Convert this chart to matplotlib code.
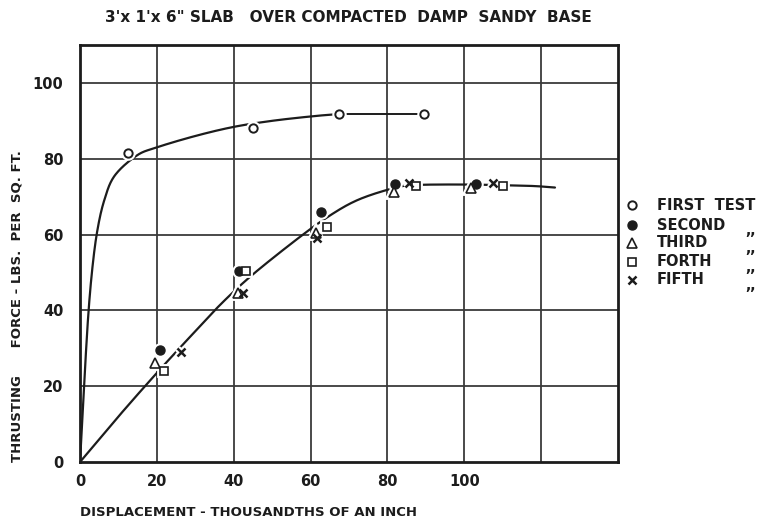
import numpy as np
import matplotlib
matplotlib.use("Agg")
import matplotlib.pyplot as plt
from matplotlib.lines import Line2D

# ---------------- data ----------------
title = '3\'x 1\'x 6" SLAB   OVER COMPACTED  DAMP  SANDY  BASE'
x_label = "DISPLACEMENT - THOUSANDTHS OF AN INCH"
y_label = "THRUSTING      FORCE - LBS.  PER  SQ. FT."

x_ticks = [0, 20, 40, 60, 80, 100]
y_ticks = [0, 20, 40, 60, 80, 100]
x_grid = [20, 40, 60, 80, 100, 120]
y_grid = [20, 40, 60, 80, 100]

legend_names = ["FIRST  TEST", "SECOND", "THIRD", "FORTH", "FIFTH"]

first_x = [12.5, 45.0, 67.5, 89.6]
first_y = [81.5, 88.2, 91.8, 91.8]
second_x = [20.8, 41.5, 62.8, 82.0, 103.0]
second_y = [29.5, 50.5, 65.9, 73.4, 73.3]
third_x = [19.5, 41.0, 61.5, 81.6, 101.7]
third_y = [26.0, 44.5, 60.5, 71.3, 72.4]
fourth_x = [21.8, 43.3, 64.4, 87.4, 110.0]
fourth_y = [24.0, 50.5, 62.0, 72.8, 72.8]
fifth_x = [26.2, 42.5, 61.8, 85.7, 107.4]
fifth_y = [29.0, 44.5, 59.0, 73.5, 73.5]

# hand-drawn fitted curves (knots)
curve1_x = [0, 1.0, 2.1, 3.2, 4.5, 6.3, 9.0, 14.7, 20, 30, 40, 50, 60.5, 67.5]
curve1_y = [0, 19, 38, 51, 61, 69, 75.5, 80.8, 83, 86, 88.4, 90, 91.2, 91.8]
flat1_x = [67.5, 89.6]
flat1_y = [91.8, 91.8]
curve2_x = [0, 10, 20, 30, 37, 45, 57, 65, 72, 80, 86, 100, 110, 118, 123.6]
curve2_y = [0, 12, 23.5, 34.5, 42, 49.5, 59.2, 65, 69, 71.8, 73, 73.2, 73, 72.8, 72.4]


def catmull_rom(xs, ys, n=30):
    p = np.column_stack([xs, ys]).astype(float)
    p = np.vstack([2 * p[0] - p[1], p, 2 * p[-1] - p[-2]])
    out = []
    t = np.linspace(0, 1, n, endpoint=False)
    for i in range(1, len(p) - 2):
        p0, p1, p2, p3 = p[i - 1], p[i], p[i + 1], p[i + 2]
        tt = t[:, None]
        seg = 0.5 * ((2 * p1) + (-p0 + p2) * tt + (2 * p0 - 5 * p1 + 4 * p2 - p3) * tt ** 2
                     + (-p0 + 3 * p1 - 3 * p2 + p3) * tt ** 3)
        out.append(seg)
    out.append(p[-2][None, :])
    out = np.vstack(out)
    return out[:, 0], out[:, 1]


# ---------------- figure ----------------
W, H = 765, 522
fig = plt.figure(figsize=(W / 100, H / 100), dpi=100)
ax = fig.add_axes([80 / W, 1 - 462 / H, (618 - 80) / W, (462 - 45) / H])

ink = "#1c1c1c"
grid_c = "#3a3a3a"

ax.set_xlim(0, 140)
ax.set_ylim(0, 110)
for gx in x_grid:
    ax.axvline(gx, color=grid_c, lw=1.3, zorder=1)
for gy in y_grid:
    ax.axhline(gy, color=grid_c, lw=1.3, zorder=1)

for s in ax.spines.values():
    s.set_linewidth(2.0)
    s.set_color(ink)

ax.set_xticks(x_ticks)
ax.set_yticks(y_ticks)
ax.set_xticklabels([str(v) for v in x_ticks])
ax.set_yticklabels([str(v) for v in y_ticks])
ax.tick_params(length=0, labelsize=10.5, colors=ink)
for lab in ax.get_xticklabels() + ax.get_yticklabels():
    lab.set_fontweight("bold")
ax.tick_params(axis="y", pad=12)
ax.tick_params(axis="x", pad=9)

cx, cy = catmull_rom(curve1_x, curve1_y)
ax.plot(cx, cy, color=ink, lw=1.6, zorder=2, solid_capstyle="round")
ax.plot(flat1_x, flat1_y, color=ink, lw=1.4, zorder=2)
cx, cy = catmull_rom(curve2_x, curve2_y)
ax.plot(cx, cy, color=ink, lw=1.6, zorder=2, solid_capstyle="round")

series = [
    (first_x, first_y, dict(marker="o", mfc="white", mec=ink, ms=6, mew=1.4)),
    (second_x, second_y, dict(marker="o", mfc=ink, mec=ink, ms=6.5, mew=1.0)),
    (third_x, third_y, dict(marker="^", mfc="white", mec=ink, ms=7, mew=1.2)),
    (fourth_x, fourth_y, dict(marker="s", mfc="white", mec=ink, ms=6, mew=1.2)),
    (fifth_x, fifth_y, dict(marker="x", mfc="none", mec=ink, ms=5.5, mew=1.8)),
]
for xs, ys, st in series:
    halo = dict(st)
    halo["mec"] = "white"
    halo["mfc"] = "white"
    halo["mew"] = st["mew"] + 3
    ax.plot(xs, ys, ls="none", zorder=3, **halo)
for xs, ys, st in series:
    ax.plot(xs, ys, ls="none", zorder=4, **st)

# titles / labels
fig.text(105 / W, 1 - 18 / H, title, ha="left", va="center", fontsize=11,
         fontweight="bold", color=ink)
fig.text(80 / W, 1 - 512 / H, x_label, ha="left", va="center", fontsize=9.5,
         fontweight="bold", color=ink)
fig.text(17 / W, 1 - 462 / H, y_label, ha="center", va="bottom", rotation=90,
         fontsize=9.5, fontweight="bold", color=ink)

# legend (drawn manually to mimic the hand-lettered key)
row_y = [205, 225, 243, 262, 280]
for (xs, ys, st), name, ry in zip(series, legend_names, row_y):
    fig.add_artist(Line2D([632 / W], [1 - ry / H], ls="none", transform=fig.transFigure, **st))
    fig.text(657 / W, 1 - ry / H, name, ha="left", va="center", fontsize=10.5,
             fontweight="bold", color=ink)
    if name != legend_names[0]:
        fig.text(745 / W, 1 - (ry + 6) / H, ",,", ha="left", va="center", fontsize=10,
                 fontweight="bold", color=ink)

fig.savefig("out.png", dpi=100, facecolor="white")
